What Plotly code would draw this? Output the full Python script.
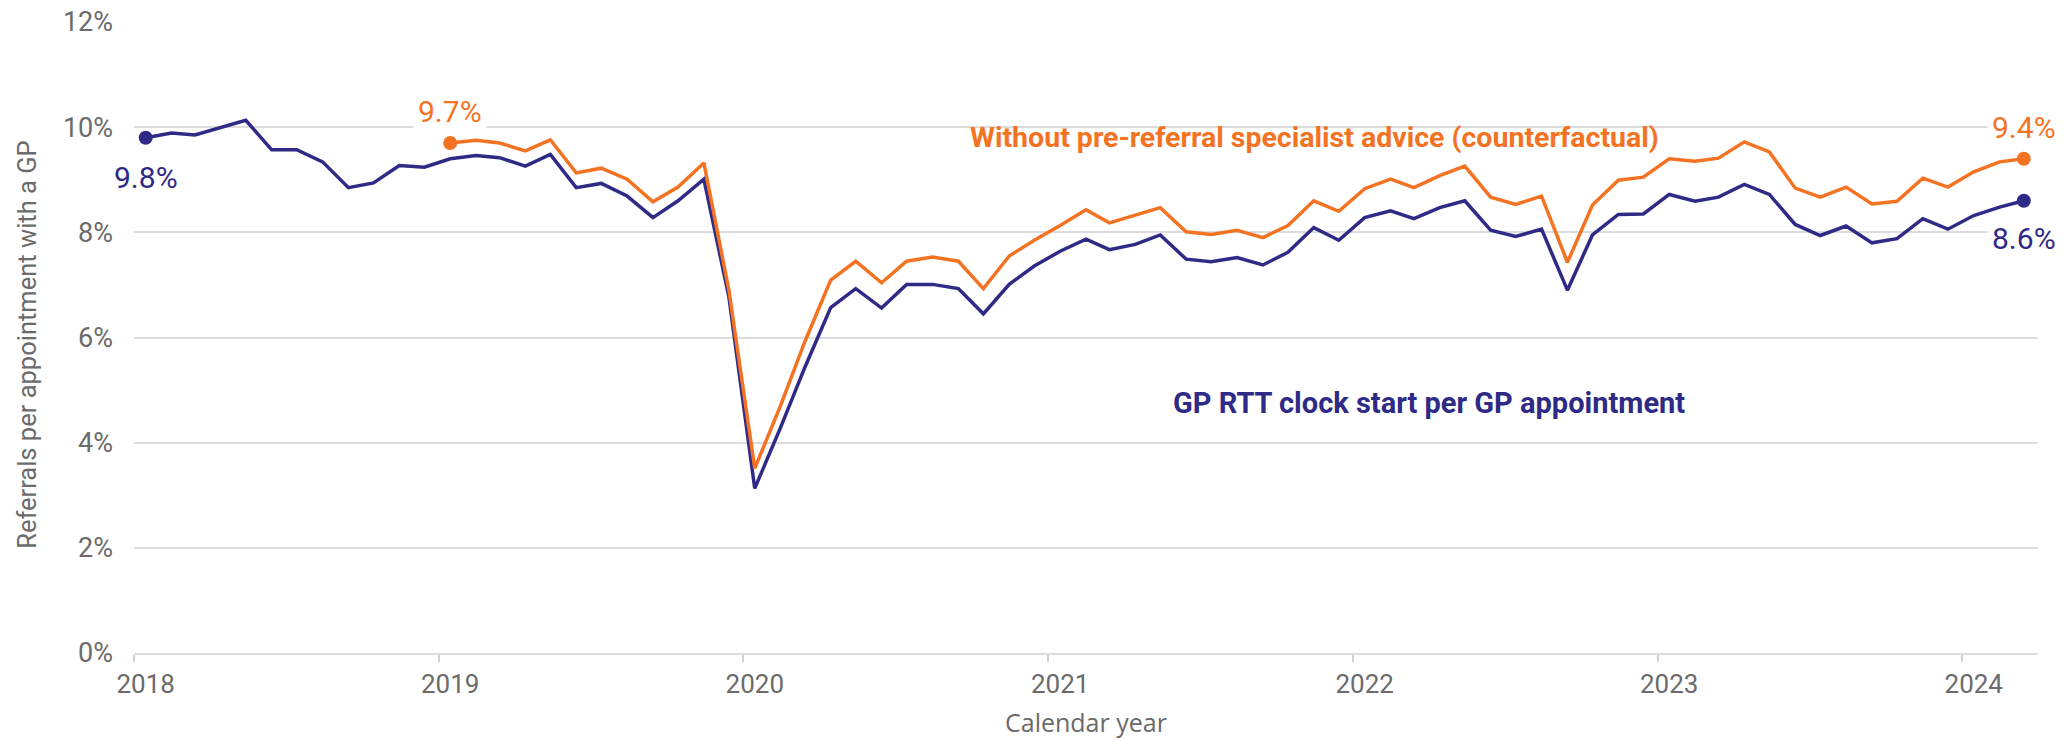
import pandas as pd
import plotly.graph_objects as go

# Monthly observations, plotted at mid-month (Jan 2018 - Mar 2024)
months = pd.date_range("2018-01-01", "2024-03-01", freq="MS") + pd.Timedelta(days=14)

# GP RTT clock starts per GP appointment (%)
gp_rtt = [
    9.80, 9.89, 9.85, 9.99, 10.13, 9.57, 9.57, 9.34, 8.85, 8.94, 9.27, 9.24,
    9.40, 9.46, 9.42, 9.26, 9.48, 8.85, 8.93, 8.69, 8.28, 8.60, 9.01, 6.77,
    3.13, 4.29, 5.43, 6.57, 6.93, 6.56, 7.01, 7.01, 6.93, 6.45, 7.01, 7.36,
    7.64, 7.87, 7.67, 7.77, 7.95, 7.49, 7.44, 7.52, 7.38, 7.62, 8.09, 7.85,
    8.28, 8.41, 8.26, 8.47, 8.60, 8.04, 7.92, 8.06, 6.90, 7.95, 8.34, 8.35,
    8.72, 8.59, 8.67, 8.91, 8.72, 8.15, 7.94, 8.12, 7.80, 7.88, 8.26, 8.06,
    8.32, 8.48, 8.60,
]

# Counterfactual without pre-referral specialist advice (%), from Jan 2019
counterfactual = [
    9.70, 9.75, 9.70, 9.55, 9.76, 9.13, 9.22, 9.01, 8.58, 8.86, 9.32, 6.90,
    3.51, 4.71, 5.92, 7.09, 7.45, 7.04, 7.45, 7.53, 7.45, 6.93, 7.55, 7.85,
    8.13, 8.43, 8.18, 8.33, 8.47, 8.01, 7.96, 8.04, 7.90, 8.13, 8.60, 8.40,
    8.83, 9.01, 8.85, 9.08, 9.26, 8.67, 8.53, 8.69, 7.43, 8.52, 8.99, 9.05,
    9.40, 9.35, 9.41, 9.72, 9.53, 8.84, 8.67, 8.86, 8.54, 8.59, 9.03, 8.86,
    9.15, 9.34, 9.40,
]
cf_months = months[12:]

y_ticks = [0, 2, 4, 6, 8, 10, 12]
y_tick_text = [f"{v}%" for v in y_ticks]
years = list(range(2018, 2025))
year_starts = [f"{y}-01-01" for y in years]   # tick marks
year_labels_at = [f"{y}-01-15" for y in years]  # label positions
year_text = [str(y) for y in years]

NAVY = "#2f2a85"
ORANGE = "#f47322"
GREY_TXT = "#6b6b6b"
GRID = "#dcdcdc"
FONT = "Roboto"
FONT_WIDE = "Open Sans"

fig = go.Figure()

fig.add_trace(go.Scatter(
    x=months, y=gp_rtt, mode="lines",
    line=dict(color=NAVY, width=3.5), hoverinfo="skip", showlegend=False,
))
fig.add_trace(go.Scatter(
    x=cf_months, y=counterfactual, mode="lines",
    line=dict(color=ORANGE, width=3.5), hoverinfo="skip", showlegend=False,
))

# End-point markers
fig.add_trace(go.Scatter(
    x=[months[0], months[-1]], y=[gp_rtt[0], gp_rtt[-1]], mode="markers",
    marker=dict(color=NAVY, size=14), hoverinfo="skip", showlegend=False,
))
fig.add_trace(go.Scatter(
    x=[cf_months[0], cf_months[-1]], y=[counterfactual[0], counterfactual[-1]],
    mode="markers", marker=dict(color=ORANGE, size=14),
    hoverinfo="skip", showlegend=False,
))

def value_label(x, y, color, shift):
    fig.add_annotation(
        x=x, y=y, xref="x", yref="y", text=f"{y:.1f}%", showarrow=False,
        yshift=shift, xanchor="center", yanchor="middle",
        font=dict(family=FONT, size=30, color=color),
        bgcolor="white", borderpad=4,
    )

value_label(months[0], gp_rtt[0], NAVY, -40)
value_label(months[-1], gp_rtt[-1], NAVY, -38)
value_label(cf_months[0], counterfactual[0], ORANGE, 31)
value_label(cf_months[-1], counterfactual[-1], ORANGE, 31)

# Series labels
fig.add_annotation(
    x="2021-11-16", y=9.80, xref="x", yref="y", showarrow=False,
    text="<b>Without pre-referral specialist advice (counterfactual)</b>",
    xanchor="center", yanchor="middle",
    font=dict(family=FONT, size=28.5, color=ORANGE),
)
fig.add_annotation(
    x="2022-04-02", y=4.76, xref="x", yref="y", showarrow=False,
    text="<b>GP RTT clock start per GP appointment</b>",
    xanchor="center", yanchor="middle",
    font=dict(family=FONT, size=29, color=NAVY),
)

# Axis titles
fig.add_annotation(
    x=0.5, y=-0.110, xref="paper", yref="paper", showarrow=False,
    text="Calendar year", xanchor="center", yanchor="middle",
    font=dict(family=FONT_WIDE, size=25, color=GREY_TXT),
)
fig.add_annotation(
    x=-0.0562, y=0.49, xref="paper", yref="paper", showarrow=False,
    text="Referrals per appointment with a GP", textangle=-90,
    xanchor="center", yanchor="middle",
    font=dict(family=FONT, size=25.5, color=GREY_TXT),
)

fig.update_layout(
    width=2070, height=741,
    margin=dict(l=134, r=32, t=22, b=88, autoexpand=False),
    paper_bgcolor="white", plot_bgcolor="white",
    font=dict(family=FONT, color=GREY_TXT),
)
fig.update_xaxes(
    type="date", range=["2018-01-01", "2024-04-01"],
    tickmode="array", tickvals=year_labels_at, ticktext=year_text,
    ticks="outside", ticklen=7, tickcolor="rgba(0,0,0,0)",
    minor=dict(tickmode="array", tickvals=year_starts, ticks="outside",
               ticklen=7, tickwidth=1.5, tickcolor="#cfcfcf", showgrid=False),
    tickfont=dict(family=FONT, size=26, color=GREY_TXT),
    showgrid=False, showline=True, linecolor=GRID, linewidth=2,
    zeroline=False,
)
fig.update_yaxes(
    range=[0, 12], tickmode="array", tickvals=y_ticks, ticktext=y_tick_text,
    ticks="", ticklabelstandoff=20,
    tickfont=dict(family=FONT, size=27, color=GREY_TXT),
    showgrid=True, gridcolor=GRID, gridwidth=2,
    zeroline=False, showline=False,
)

fig.write_html("out.html")
